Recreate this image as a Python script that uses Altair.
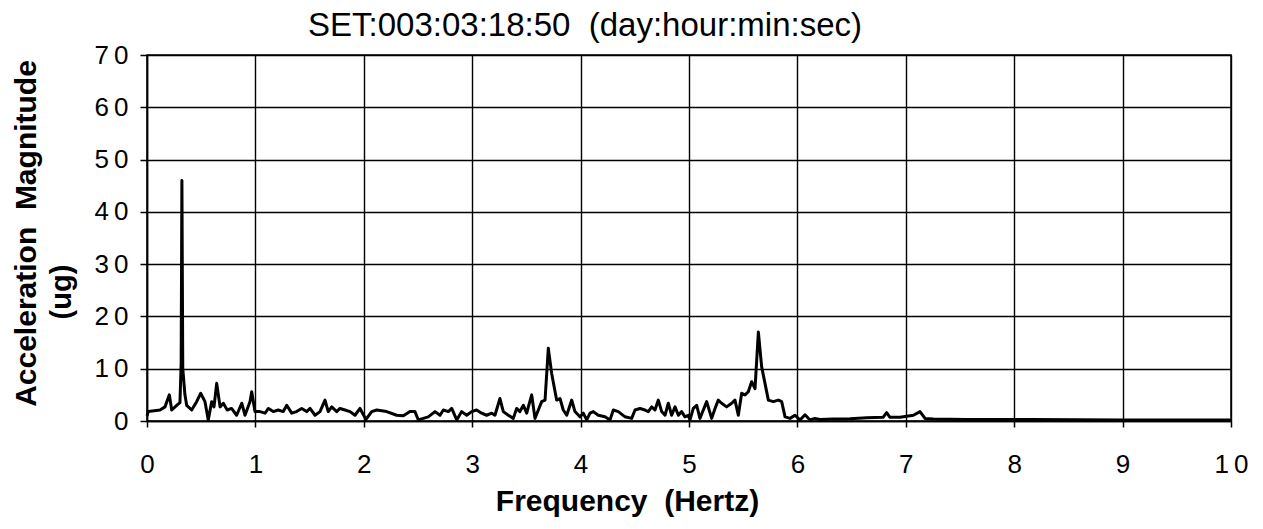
import altair as alt
import pandas as pd

# ---- data ----
freq = [0.00, 0.012, 0.12, 0.166, 0.206, 0.228, 0.274, 0.304, 0.315, 0.322, 0.33, 0.35, 0.366,
        0.412, 0.458, 0.495, 0.535, 0.565, 0.597, 0.618, 0.643, 0.674, 0.704, 0.74, 0.78, 0.827,
        0.874, 0.904, 0.95, 0.966, 0.996, 1.042, 1.089, 1.12, 1.165, 1.21, 1.257, 1.289, 1.335,
        1.38, 1.427, 1.473, 1.504, 1.55, 1.596, 1.642, 1.672, 1.704, 1.75, 1.78, 1.827, 1.873,
        1.919, 1.965, 2.02, 2.073, 2.119, 2.211, 2.303, 2.365, 2.426, 2.472, 2.503, 2.549, 2.595,
        2.657, 2.703, 2.734, 2.78, 2.811, 2.857, 2.903, 2.949, 2.995, 3.041, 3.087, 3.133, 3.18,
        3.21, 3.256, 3.287, 3.333, 3.379, 3.41, 3.44, 3.472, 3.503, 3.518, 3.549, 3.579, 3.61,
        3.641, 3.672, 3.702, 3.733, 3.779, 3.81, 3.84, 3.872, 3.918, 3.948, 3.994, 4.025, 4.056,
        4.087, 4.117, 4.163, 4.225, 4.271, 4.302, 4.348, 4.41, 4.471, 4.502, 4.548, 4.594, 4.625,
        4.656, 4.686, 4.717, 4.748, 4.779, 4.809, 4.84, 4.871, 4.902, 4.932, 4.963, 4.994, 5.009,
        5.04, 5.071, 5.101, 5.132, 5.163, 5.209, 5.24, 5.27, 5.301, 5.347, 5.394, 5.424, 5.455,
        5.486, 5.517, 5.547, 5.578, 5.609, 5.64, 5.67, 5.701, 5.732, 5.778, 5.824, 5.855, 5.886,
        5.932, 5.978, 6.024, 6.07, 6.116, 6.162, 6.208, 6.33, 6.485, 6.64, 6.79, 6.823, 6.854,
        6.946, 7.07, 7.131, 7.177, 7.254, 7.56, 7.87, 8.146, 9.0, 10.0]
mag = [1.0, 1.8, 2.1, 2.7, 5.0, 2.1, 3.0, 3.5, 11.0, 46.0, 10.0, 5.0, 3.0,
       2.1, 3.7, 5.3, 3.7, 0.2, 3.7, 2.7, 7.2, 2.7, 3.4, 2.1, 2.4, 1.1,
       3.4, 1.1, 3.7, 5.6, 1.8, 1.8, 1.5, 2.4, 1.8, 2.1, 1.8, 3.0, 1.5,
       1.8, 2.4, 1.8, 2.4, 1.1, 1.8, 4.0, 1.8, 2.7, 1.8, 2.4, 2.1, 1.8,
       1.1, 2.4, 0.3, 1.8, 2.1, 1.8, 1.1, 1.0, 1.8, 1.8, 0.2, 0.5, 0.8,
       1.8, 1.1, 2.1, 1.8, 2.4, 0.2, 1.8, 1.1, 1.8, 2.1, 1.5, 1.1, 1.5,
       1.1, 4.3, 1.8, 1.1, 0.5, 2.4, 1.8, 3.0, 1.5, 2.7, 5.0, 0.5, 2.1,
       3.7, 4.0, 13.9, 9.1, 4.0, 4.3, 2.1, 1.1, 4.0, 1.8, 0.8, 1.5, 0.2,
       1.5, 1.8, 1.1, 0.8, 0.2, 2.1, 1.8, 0.8, 0.5, 2.1, 2.4, 2.1, 1.8,
       2.7, 2.1, 4.0, 1.8, 1.1, 3.4, 1.1, 2.7, 1.1, 1.8, 0.8, 1.1, 0.2,
       2.4, 3.0, 0.5, 2.1, 3.7, 0.5, 2.4, 4.0, 3.4, 2.7, 3.4, 4.0, 1.1,
       5.3, 5.0, 5.6, 7.5, 6.2, 17.0, 10.4, 7.2, 4.0, 3.7, 4.0, 3.7, 0.8,
       0.5, 1.1, 0.2, 1.2, 0.2, 0.5, 0.3, 0.4, 0.45, 0.6, 0.7, 1.6, 0.7,
       0.7, 1.1, 1.8, 0.5, 0.4, 0.3, 0.3, 0.3, 0.2, 0.2]

x_ticks = [0, 1, 2, 3, 4, 5, 6, 7, 8, 9, 10]
y_ticks = [0, 10, 20, 30, 40, 50, 60, 70]

chart_title = ["SET:003:03:18:50\u00a0 (day:hour:min:sec)"]
x_title = "Frequency\u00a0 (Hertz)"
y_title = "Acceleration\u00a0 Magnitude"
y_unit = ["(ug)"]

FONT = "Liberation Sans"
SPACED = "join(split(datum.label, ''), '\u2009')"

df = pd.DataFrame({"freq": freq, "mag": mag})

line = alt.Chart(df).mark_line(color="black", strokeWidth=3, strokeJoin="round").encode(
    x=alt.X("freq:Q",
            scale=alt.Scale(domain=[0, 10], nice=False, zero=False),
            axis=alt.Axis(values=x_ticks, title=x_title, grid=True, tickSize=6,
                          labelPadding=24, labelExpr=SPACED, labelFlush=False,
                          titleX=480, titleY=89, titleAlign="center",
                          titleBaseline="alphabetic")),
    y=alt.Y("mag:Q",
            scale=alt.Scale(domain=[0, 70], nice=False),
            axis=alt.Axis(values=y_ticks, title=y_title, grid=True, tickSize=7,
                          labelPadding=12, labelExpr=SPACED, labelFlush=False,
                          titleX=-121, titleY=178, titleAngle=270,
                          titleAlign="center", titleBaseline="middle")),
)

unit = alt.Chart(pd.DataFrame({"t": y_unit})).mark_text(
    font=FONT, fontSize=29, fontWeight="bold", angle=270, color="black",
    align="center", baseline="middle"
).encode(x=alt.value(-85), y=alt.value(237), text="t:N")

title = alt.Chart(pd.DataFrame({"t": chart_title})).mark_text(
    font=FONT, fontSize=33, fontWeight="normal", color="black",
    align="center", baseline="alphabetic"
).encode(x=alt.value(438), y=alt.value(-19), text="t:N")

chart = alt.layer(line, unit, title).properties(
    width=1084, height=366,
    autosize=alt.AutoSizeParams(type="none"),
    padding={"left": 139, "top": 47, "right": 24, "bottom": 100},
    background="white",
).configure_view(stroke="black", strokeWidth=1.5).configure_axis(
    labelFont=FONT, labelFontSize=26, labelColor="black",
    titleFont=FONT, titleFontSize=30, titleFontWeight="bold", titleColor="black",
    tickColor="black", tickWidth=1.5, domainColor="black", domainWidth=1.5,
    gridColor="black", gridWidth=1.4, gridOpacity=1,
)

chart.save("out.html", embed_options={"renderer": "svg", "actions": False})
